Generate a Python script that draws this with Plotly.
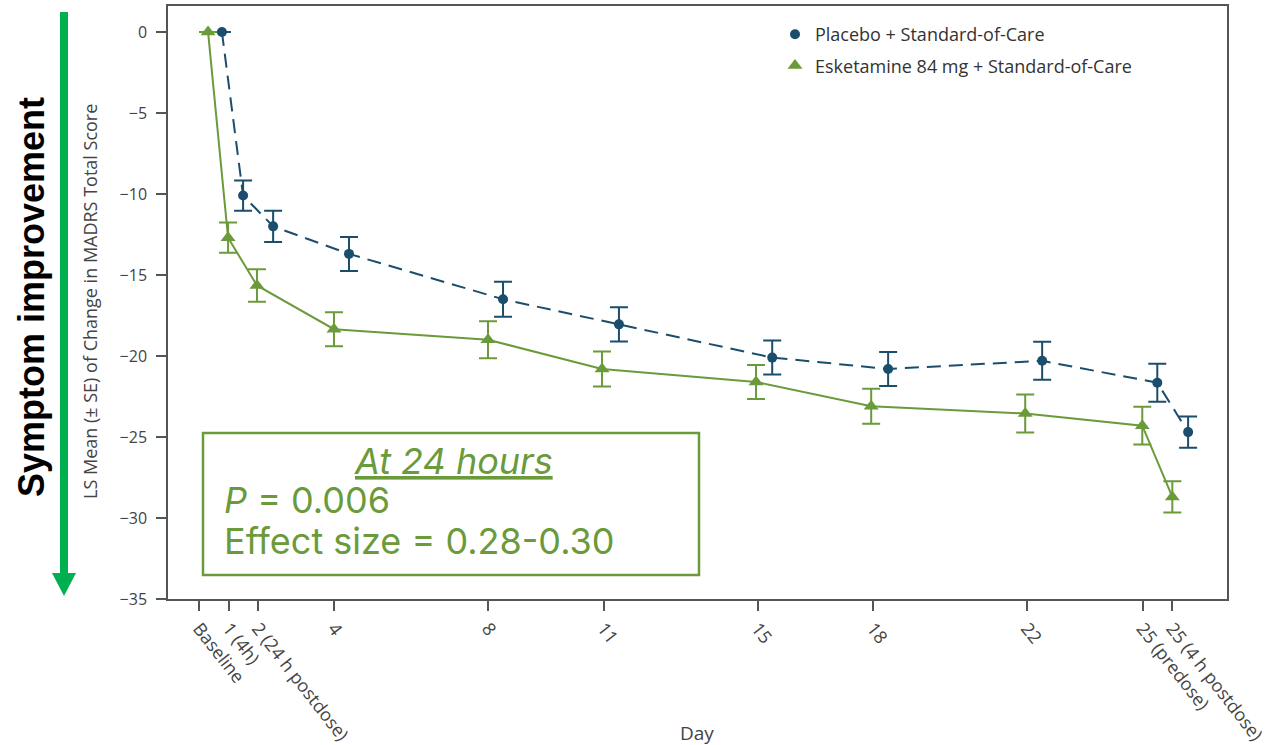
import plotly.graph_objects as go

# ---------------- data ----------------
tick_vals = [0.5, 1.27, 2.03, 4, 8, 11, 15, 18, 22, 25, 25.77]
tick_text = ["Baseline", "1 (4h)", "2 (24 h postdose)", "4", "8", "11", "15", "18", "22",
             "25 (predose)", "25 (4 h postdose)"]

placebo_x = [1.09, 1.64, 2.42, 4.39, 8.39, 11.40, 15.38, 18.39, 22.39, 25.38, 26.18]
placebo_y = [0, -10.1, -12.0, -13.7, -16.5, -18.05, -20.1, -20.8, -20.3, -21.65, -24.7]
placebo_se = [0, 0.93, 0.97, 1.05, 1.08, 1.05, 1.05, 1.05, 1.17, 1.17, 0.96]

esk_x = [0.73, 1.25, 2.0, 4.0, 8.0, 10.96, 14.96, 17.95, 21.95, 24.99, 25.77]
esk_y = [0, -12.7, -15.65, -18.35, -19.0, -20.8, -21.6, -23.1, -23.55, -24.3, -28.7]
esk_se = [0, 0.93, 1.0, 1.05, 1.14, 1.08, 1.05, 1.08, 1.17, 1.17, 0.96]

placebo_name = "Placebo + Standard-of-Care"
esk_name = "Esketamine 84 mg + Standard-of-Care"

# ---------------- styles ----------------
C_PLA = "#1b4d6c"
C_ESK = "#6b9a3b"
C_ARROW = "#00b050"
C_TEXT = "#444444"
FONT = "Open Sans"

W, H = 1268, 745
L, R, T, B = 168, 41, 6, 146
PW, PH = W - L - R, H - T - B


def px(x):
    return (x - L) / PW


def py(y):
    return (H - B - y) / PH


fig = go.Figure()

# lines (no legend)
fig.add_trace(go.Scatter(x=placebo_x, y=placebo_y, mode="lines", showlegend=False,
                         line=dict(color=C_PLA, width=2, dash="14px,8px"), hoverinfo="skip"))
fig.add_trace(go.Scatter(x=esk_x, y=esk_y, mode="lines", showlegend=False,
                         line=dict(color=C_ESK, width=2), hoverinfo="skip"))
# markers with error bars
fig.add_trace(go.Scatter(x=placebo_x, y=placebo_y, mode="markers", name=placebo_name,
                         legendgroup="a",
                         marker=dict(symbol="circle", size=10, color=C_PLA),
                         error_y=dict(type="data", array=placebo_se, visible=True,
                                      color=C_PLA, thickness=2, width=9)))
fig.add_trace(go.Scatter(x=esk_x, y=esk_y, mode="markers", name=esk_name,
                         legendgroup="b",
                         marker=dict(symbol="triangle-up", size=13, color=C_ESK),
                         error_y=dict(type="data", array=esk_se, visible=True,
                                      color=C_ESK, thickness=2, width=9)))

axis_common = dict(showgrid=False, zeroline=False, showline=True, mirror=True,
                   linecolor="#555555", linewidth=1.5, ticks="outside", ticklen=10,
                   tickcolor="#555555", tickwidth=1.5, automargin=False,
                   ticklabeloverflow="allow")

fig.update_xaxes(range=[-0.31, 27.19], tickmode="array", tickvals=tick_vals,
                 ticktext=tick_text, tickangle=52,
                 tickfont=dict(family=FONT, size=18, color=C_TEXT), **axis_common)
fig.update_yaxes(range=[-35, 1.6], tickmode="array",
                 tickvals=[0, -5, -10, -15, -20, -25, -30, -35],
                 ticktext=["0", "\u22125", "\u221210", "\u221215", "\u221220", "\u221225",
                           "\u221230", "\u221235"],
                 ticklabelstandoff=6,
                 tickfont=dict(family=FONT, size=16, color=C_TEXT), **axis_common)

shapes = [
    dict(type="line", xref="paper", yref="paper", x0=px(64), x1=px(64), y0=py(12), y1=py(575),
         line=dict(color=C_ARROW, width=8)),
    dict(type="path", xref="paper", yref="paper",
         path=f"M {px(52)},{py(573)} L {px(76)},{py(573)} L {px(64)},{py(596)} Z",
         fillcolor=C_ARROW, line=dict(width=0)),
    dict(type="rect", xref="paper", yref="paper", x0=px(203), x1=px(699), y0=py(575), y1=py(433),
         line=dict(color=C_ESK, width=2.5), fillcolor="white", layer="above"),
]

BOXFONT = "Inter"
annotations = [
    dict(text="<b>Symptom improvement</b>", x=px(31), y=py(297), xref="paper", yref="paper",
         showarrow=False, textangle=-90, xanchor="center", yanchor="middle",
         font=dict(family="Liberation Sans", size=36, color="black")),
    dict(text="LS Mean (\u00b1 SE) of Change in MADRS Total Score", x=px(90), y=py(302),
         xref="paper", yref="paper", showarrow=False, textangle=-90,
         xanchor="center", yanchor="middle",
         font=dict(family=FONT, size=18, color=C_TEXT)),
    dict(text="Day", x=px(697), y=py(733), xref="paper", yref="paper", showarrow=False,
         xanchor="center", yanchor="middle",
         font=dict(family=FONT, size=19, color=C_TEXT)),
    dict(text="<u>At 24 hours</u>", x=px(453), y=py(461), xref="paper", yref="paper",
         showarrow=False, xanchor="center", yanchor="middle",
         font=dict(family=BOXFONT, size=36, color=C_ESK, style="italic")),
    dict(text="<i>P</i> = 0.006", x=px(222), y=py(500), xref="paper", yref="paper",
         showarrow=False, xanchor="left", yanchor="middle",
         font=dict(family=BOXFONT, size=36, color=C_ESK)),
    dict(text="Effect size = 0.28-0.30", x=px(222), y=py(541), xref="paper", yref="paper",
         showarrow=False, xanchor="left", yanchor="middle",
         font=dict(family=BOXFONT, size=36, color=C_ESK)),
]

fig.update_layout(
    width=W, height=H, margin=dict(l=L, r=R, t=T, b=B),
    plot_bgcolor="white", paper_bgcolor="white",
    shapes=shapes, annotations=annotations,
    legend=dict(x=px(775), y=py(16), xanchor="left", yanchor="top",
                bgcolor="rgba(0,0,0,0)", traceorder="grouped", tracegroupgap=5,
                font=dict(family=FONT, size=18, color="#333333")),
)

fig.write_html("out.html")
